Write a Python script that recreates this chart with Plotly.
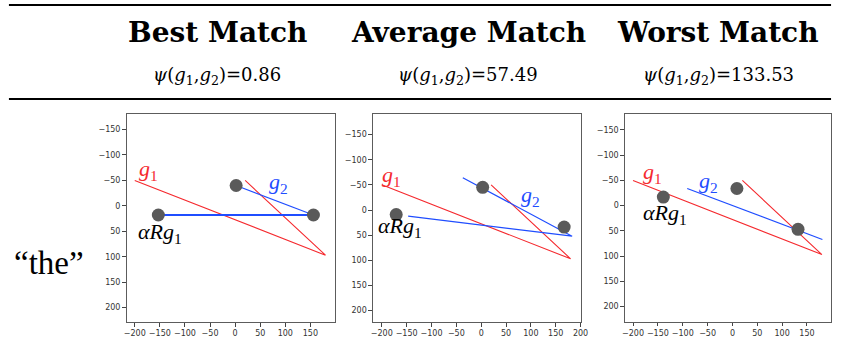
import plotly.graph_objects as go

W, H = 842, 354

# ---------------- data ----------------
panel_titles = ["Best Match", "Average Match", "Worst Match"]
psi_values = ["0.86", "57.49", "133.53"]
row_label = "\u201cthe\u201d"

# g1 polyline (same in every panel)
g1_x = [-200, 180, 20]
g1_y = [-50, 97, -50]

# gray points per panel
pts_x = [[-153, 2, 156], [-171, 3, 167], [-139, 9, 132]]
pts_y = [[18, -40, 18], [9, -45, 34], [-17, -34, 47]]

# blue paths per panel
blue_x = [[[2, 156], [156, -153]], [[-37, 183, -147]], [[-91, 181]]]
blue_y = [[[-40, 18], [18, 18]], [[-64, 52, 12]], [[-34, 67]]]
blue_w = [[1.2, 2.2], [1.2], [1.2]]

# label anchors per panel (data coords)
g1_lab = [(-173, -70), (-180, -68), (-160, -64)]
g2_lab = [(87, -45), (100, -27), (-48, -46)]
ar_lab = [(-149, 53), (-163, 33), (-136, 16)]

x_ranges = [[-216.4, 199], [-218, 201], [-216.5, 198.4]]
y_ranges = [[228.4, -180.6], [222.6, -190.8], [230, -181.6]]
x_ticks = list(range(-200, 201, 50))
y_ticks = list(range(-150, 201, 50))

# ---------------- layout geometry (pixels) ----------------
boxes = [(125, 114, 336, 322), (374.3, 114, 585, 322), (629.3, 114, 838, 321.7)]
title_cx = [217, 471, 724]

def px(x):
    return x / W

def py(y):
    return 1 - y / H

fig = go.Figure()

RED = "#f52a2f"
BLUE = "#1f4dff"
GRAY = "#5a5a5a"

for i in range(3):
    xa = "x" if i == 0 else f"x{i+1}"
    ya = "y" if i == 0 else f"y{i+1}"
    fig.add_trace(go.Scatter(x=g1_x, y=g1_y, mode="lines",
                             line=dict(color=RED, width=1.1),
                             xaxis=xa, yaxis=ya, showlegend=False, hoverinfo="skip"))
    for bx, by, bw in zip(blue_x[i], blue_y[i], blue_w[i]):
        fig.add_trace(go.Scatter(x=bx, y=by, mode="lines",
                                 line=dict(color=BLUE, width=bw),
                                 xaxis=xa, yaxis=ya, showlegend=False, hoverinfo="skip"))
    fig.add_trace(go.Scatter(x=pts_x[i], y=pts_y[i], mode="markers",
                             marker=dict(color=GRAY, size=13, line=dict(width=0)),
                             xaxis=xa, yaxis=ya, showlegend=False, hoverinfo="skip"))

    l, t, r, b = boxes[i]
    axis_common = dict(showline=True, linecolor="#5c5c5c", linewidth=1, mirror=True,
                       ticks="outside", ticklen=3.5, tickwidth=1, tickcolor="#444",
                       showgrid=False, zeroline=False,
                       tickfont=dict(family="DejaVu Sans", size=8, color="#333"))
    fig.update_layout(**{
        ("xaxis" if i == 0 else f"xaxis{i+1}"): dict(domain=[px(l), px(r)], range=x_ranges[i],
                                                     anchor=ya, tickvals=x_ticks, **axis_common),
        ("yaxis" if i == 0 else f"yaxis{i+1}"): dict(domain=[py(b), py(t)], range=y_ranges[i],
                                                     anchor=xa, tickvals=y_ticks, **axis_common),
    })

    lab_font = dict(family="Liberation Serif, serif", size=22)
    fig.add_annotation(x=g1_lab[i][0], y=g1_lab[i][1], xref=xa, yref=ya,
                       text="<i>g</i><sub>1</sub>", showarrow=False,
                       font=dict(color=RED, **lab_font))
    fig.add_annotation(x=g2_lab[i][0], y=g2_lab[i][1], xref=xa, yref=ya,
                       text="<i>g</i><sub>2</sub>", showarrow=False,
                       font=dict(color=BLUE, **lab_font))
    fig.add_annotation(x=ar_lab[i][0], y=ar_lab[i][1], xref=xa, yref=ya,
                       text="<i>\u03b1Rg</i><sub>1</sub>", showarrow=False,
                       font=dict(color="black", **lab_font))

    # header texts
    fig.add_annotation(x=px(title_cx[i]), y=py(33), xref="paper", yref="paper",
                       text=f"<b>{panel_titles[i]}</b>", showarrow=False,
                       xanchor="center", yanchor="middle",
                       font=dict(family="DejaVu Serif", size=28, color="black"))
    fig.add_annotation(x=px(title_cx[i]), y=py(76), xref="paper", yref="paper",
                       text=f"<i>\u03c8</i>(<i>g</i><sub>1</sub>,<i>g</i><sub>2</sub>)={psi_values[i]}",
                       showarrow=False, xanchor="center", yanchor="middle",
                       font=dict(family="DejaVu Serif", size=18, color="black"))

fig.add_annotation(x=px(47), y=py(263), xref="paper", yref="paper", text=row_label,
                   showarrow=False, xanchor="center", yanchor="middle",
                   font=dict(family="Liberation Serif, serif", size=33, color="black"))

# table rules
for yy in (5, 99):
    fig.add_shape(type="line", xref="paper", yref="paper",
                  x0=px(6), x1=px(838), y0=py(yy), y1=py(yy),
                  line=dict(color="black", width=2))

fig.update_layout(width=W, height=H, margin=dict(l=0, r=0, t=0, b=0),
                  paper_bgcolor="white", plot_bgcolor="white")

fig.write_html("out.html", config={"displayModeBar": False},
               post_script="document.body.style.margin='0';document.body.style.padding='0';")
